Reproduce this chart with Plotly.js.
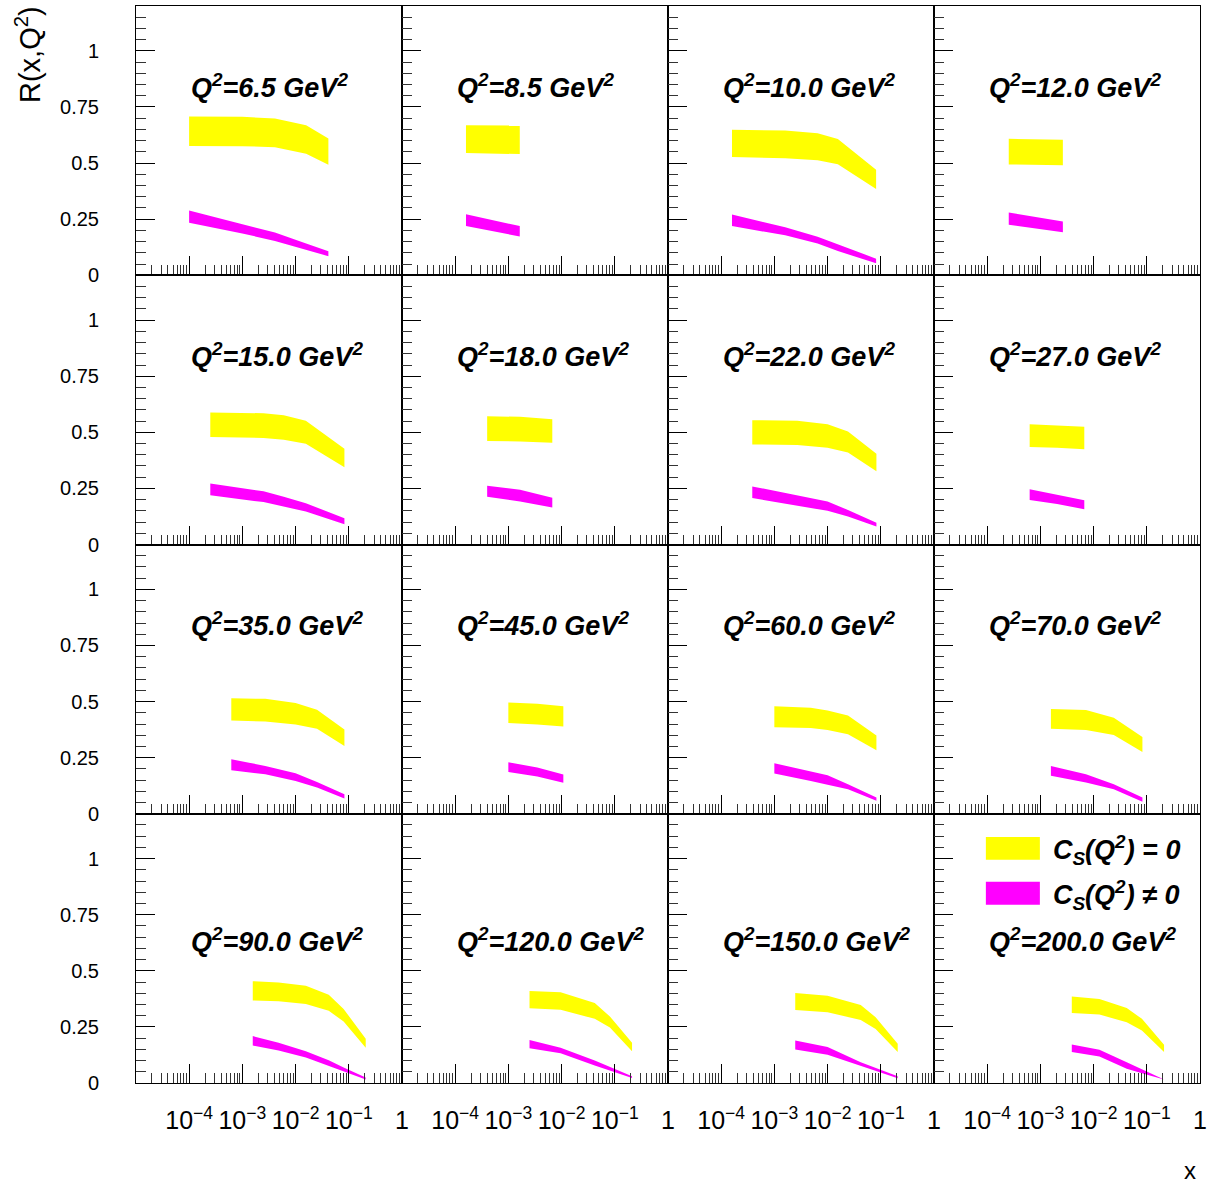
<!DOCTYPE html>
<html><head><meta charset="utf-8">
<script src="https://cdn.plot.ly/plotly-3.0.1.min.js"></script>
<style>html,body{margin:0;padding:0;background:#fff}#chart{width:1209px;height:1183px}</style>
</head><body><div id="chart"></div>
<script>
const q2Labels = ['6.5','8.5','10.0','12.0','15.0','18.0','22.0','27.0','35.0','45.0','60.0','70.0','90.0','120.0','150.0','200.0'];
const xPoints = [
  [1e-4, 1e-3, 4.1e-3, 0.0158, 0.0414],
  [1.6e-4, 1.64e-3],
  [1.6e-4, 1.6e-3, 6.5e-3, 0.0156, 0.0817],
  [2.55e-4, 2.65e-3],
  [2.5e-4, 2.5e-3, 6e-3, 0.0156, 0.0828],
  [4e-4, 1.66e-3, 6.7e-3],
  [3.85e-4, 2.7e-3, 0.01, 0.0242, 0.0828],
  [6.3e-4, 2.07e-3, 6.7e-3],
  [6.2e-4, 2.7e-3, 0.01, 0.0253, 0.0828],
  [1e-3, 3.5e-3, 0.0108],
  [1e-3, 4.84e-3, 0.01, 0.0242, 0.0828],
  [1.58e-3, 7.2e-3, 0.024, 0.0828],
  [1.57e-3, 4.8e-3, 0.0156, 0.042, 0.080, 0.208],
  [2.5e-3, 9.6e-3, 0.042, 0.081, 0.211],
  [2.47e-3, 0.01, 0.042, 0.080, 0.208],
  [3.9e-3, 0.0129, 0.042, 0.081, 0.211]
];
const yellowHigh = [
  [0.707, 0.706, 0.699, 0.668, 0.609],
  [0.668, 0.667],
  [0.648, 0.645, 0.633, 0.607, 0.470],
  [0.608, 0.604],
  [0.588, 0.585, 0.576, 0.552, 0.427],
  [0.572, 0.569, 0.558],
  [0.554, 0.551, 0.536, 0.504, 0.404],
  [0.536, 0.532, 0.525],
  [0.515, 0.512, 0.494, 0.464, 0.376],
  [0.496, 0.490, 0.479],
  [0.479, 0.472, 0.460, 0.438, 0.349],
  [0.467, 0.462, 0.428, 0.342],
  [0.454, 0.448, 0.433, 0.393, 0.330, 0.197],
  [0.410, 0.404, 0.357, 0.296, 0.179],
  [0.401, 0.389, 0.348, 0.293, 0.175],
  [0.385, 0.374, 0.334, 0.286, 0.170]
];
const yellowLow = [
  [0.576, 0.575, 0.571, 0.542, 0.493],
  [0.545, 0.540],
  [0.527, 0.522, 0.512, 0.495, 0.384],
  [0.494, 0.490],
  [0.479, 0.475, 0.467, 0.449, 0.344],
  [0.461, 0.459, 0.454],
  [0.446, 0.443, 0.431, 0.410, 0.326],
  [0.434, 0.431, 0.424],
  [0.416, 0.411, 0.398, 0.379, 0.302],
  [0.404, 0.398, 0.389],
  [0.386, 0.382, 0.373, 0.354, 0.283],
  [0.379, 0.373, 0.351, 0.275],
  [0.368, 0.364, 0.352, 0.322, 0.274, 0.157],
  [0.333, 0.327, 0.286, 0.247, 0.141],
  [0.325, 0.315, 0.281, 0.241, 0.138],
  [0.312, 0.305, 0.271, 0.234, 0.138]
];
const magentaHigh = [
  [0.289, 0.226, 0.190, 0.141, 0.107],
  [0.272, 0.219],
  [0.271, 0.214, 0.172, 0.138, 0.074],
  [0.280, 0.240],
  [0.272, 0.237, 0.213, 0.184, 0.117],
  [0.262, 0.244, 0.208],
  [0.259, 0.219, 0.192, 0.154, 0.097],
  [0.246, 0.222, 0.197],
  [0.243, 0.213, 0.180, 0.142, 0.087],
  [0.229, 0.206, 0.175],
  [0.225, 0.189, 0.172, 0.132, 0.072],
  [0.213, 0.176, 0.132, 0.072],
  [0.209, 0.179, 0.142, 0.101, 0.069, 0.025],
  [0.192, 0.157, 0.100, 0.071, 0.030],
  [0.189, 0.160, 0.093, 0.067, 0.030],
  [0.172, 0.148, 0.093, 0.062, 0.019]
];
const magentaLow = [
  [0.234, 0.186, 0.153, 0.113, 0.085],
  [0.219, 0.173],
  [0.219, 0.178, 0.142, 0.108, 0.053],
  [0.225, 0.192],
  [0.219, 0.189, 0.170, 0.147, 0.090],
  [0.213, 0.192, 0.165],
  [0.207, 0.173, 0.150, 0.125, 0.080],
  [0.198, 0.180, 0.157],
  [0.194, 0.176, 0.146, 0.117, 0.068],
  [0.186, 0.166, 0.138],
  [0.179, 0.146, 0.129, 0.109, 0.058],
  [0.169, 0.139, 0.109, 0.053],
  [0.167, 0.145, 0.114, 0.078, 0.052, 0.016],
  [0.155, 0.133, 0.078, 0.054, 0.022],
  [0.149, 0.126, 0.078, 0.055, 0.021],
  [0.138, 0.118, 0.064, 0.044, 0.016]
];
const legendLabels = ['C<sub>S</sub>(Q<sup>2</sup>) = 0', 'C<sub>S</sub>(Q<sup>2</sup>) \u2260 0'];
const bandColors = ['#ffff00', '#ff00ff'];

const FONT = '"Liberation Sans", Arial, Helvetica, sans-serif';
const traces = [];
const layout = {
  width: 1209, height: 1183,
  margin: {l: 136, r: 9, t: 6, b: 100},
  paper_bgcolor: '#ffffff', plot_bgcolor: '#ffffff',
  showlegend: false,
  font: {family: FONT, color: '#000', size: 20},
  annotations: [], shapes: []
};

function band(x, hi, lo) {
  return {x: x.concat(x.slice().reverse()), y: hi.concat(lo.slice().reverse())};
}

for (let i = 0; i < 16; i++) {
  const n = i + 1;
  const col = i % 4, row = Math.floor(i / 4);
  const xa = 'x' + (n === 1 ? '' : n), ya = 'y' + (n === 1 ? '' : n);
  const yb = band(xPoints[i], yellowHigh[i], yellowLow[i]);
  const mb = band(xPoints[i], magentaHigh[i], magentaLow[i]);
  [[yb, bandColors[0]], [mb, bandColors[1]]].forEach(([b, c]) => {
    traces.push({x: b.x, y: b.y, xaxis: xa, yaxis: ya, type: 'scatter', mode: 'lines',
      fill: 'toself', fillcolor: c, line: {width: 0, color: c}, hoverinfo: 'skip'});
  });
  layout['xaxis' + (n === 1 ? '' : n)] = {
    type: 'log', range: [-4.998, 0], domain: [col / 4, (col + 1) / 4], anchor: ya,
    showline: true, mirror: true, linecolor: '#000', linewidth: 1,
    ticks: 'inside', ticklen: 19, tickwidth: 1, tickcolor: '#000',
    tickmode: 'linear', tick0: 0, dtick: 1, exponentformat: 'power', showexponent: 'all',
    minor: {ticks: 'inside', ticklen: 10, tickwidth: 1, tickcolor: '#333', dtick: 'D1'},
    showgrid: false, zeroline: false,
    showticklabels: row === 3, ticklabelstandoff: 16,
    tickfont: {family: FONT, size: 20, color: '#000'}
  };
  layout['yaxis' + (n === 1 ? '' : n)] = {
    range: [0, 1.2], domain: [1 - (row + 1) / 4, 1 - row / 4], anchor: xa,
    showline: true, mirror: true, linecolor: '#000', linewidth: 1,
    ticks: 'inside', ticklen: 19, tickwidth: 1, tickcolor: '#000',
    tickmode: 'linear', tick0: 0, dtick: 0.25,
    minor: {ticks: 'inside', ticklen: 10, tickwidth: 1, tickcolor: '#333', dtick: 0.05},
    showgrid: false, zeroline: false,
    showticklabels: col === 0, ticklabelstandoff: 32,
    tickfont: {family: FONT, size: 20, color: '#000'}
  };
  layout.annotations.push({
    xref: xa, yref: ya, x: -4, y: row === 3 ? 0.636 : 0.845,
    xanchor: 'left', yanchor: 'middle', showarrow: false,
    text: '<b><i>Q<sup>2</sup>=' + q2Labels[i] + ' GeV<sup>2</sup></i></b>',
    font: {family: FONT, size: 27, color: '#000'}
  });
}

// legend in last panel
const legY = [[0.829, 0.914, 0.866], [0.662, 0.747, 0.699]];
legendLabels.forEach((t, k) => {
  layout.shapes.push({type: 'rect', xref: 'x16 domain', yref: 'y16 domain',
    x0: 0.195, x1: 0.398, y0: legY[k][0], y1: legY[k][1],
    fillcolor: bandColors[k], line: {width: 0}});
  layout.annotations.push({xref: 'x16 domain', yref: 'y16 domain', x: 0.44, y: legY[k][2],
    xanchor: 'left', yanchor: 'middle', showarrow: false,
    text: '<b><i>' + t + '</i></b>', font: {family: FONT, size: 27, color: '#000'}});
});

layout.annotations.push({xref: 'paper', yref: 'paper', x: -0.1015, y: 0.9545,
  xanchor: 'center', yanchor: 'middle', textangle: -90, showarrow: false,
  text: 'R(x,Q<sup>2</sup>)', font: {family: FONT, size: 29, color: '#000'}});
layout.annotations.push({xref: 'paper', yref: 'paper', x: 0.9906, y: -0.0808,
  xanchor: 'center', yanchor: 'middle', showarrow: false,
  text: 'x', font: {family: FONT, size: 24, color: '#000'}});

Plotly.newPlot('chart', traces, layout, {staticPlot: true, displayModeBar: false});
</script></body></html>
